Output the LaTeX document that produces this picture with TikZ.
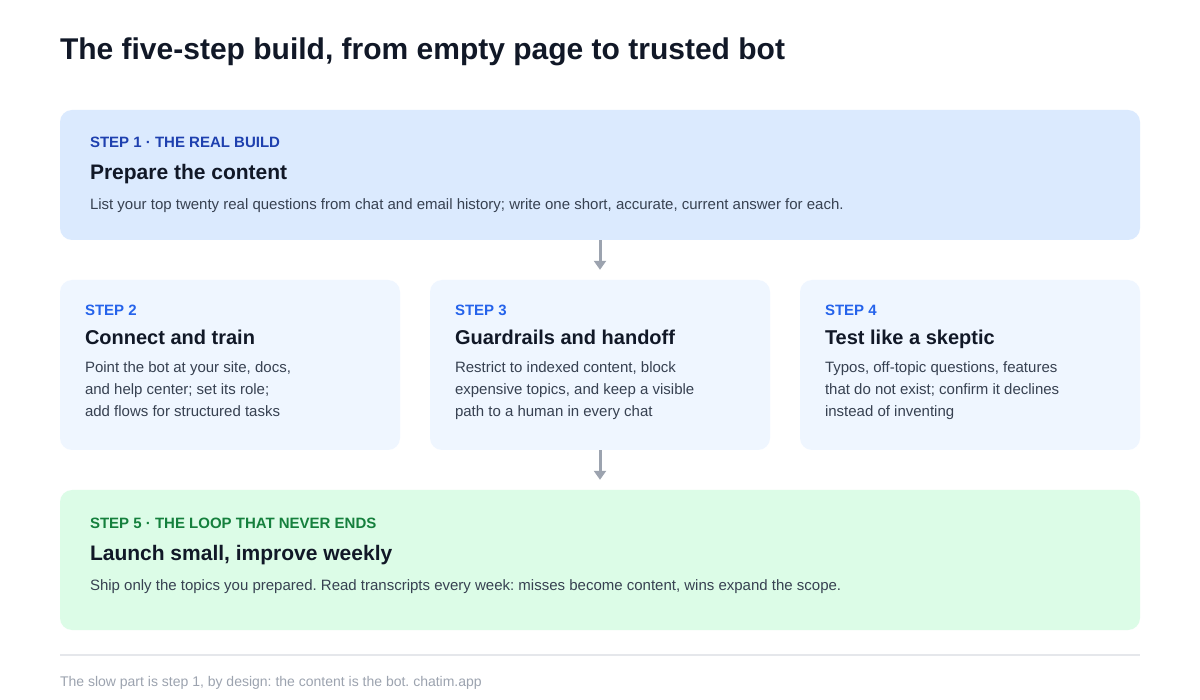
\documentclass[tikz,border=0pt]{standalone}
\usepackage{fontspec}
\setmainfont{Liberation Sans}
\usetikzlibrary{arrows.meta}
\frenchspacing
\definecolor{titlec}{HTML}{111827}
\definecolor{bodyc}{HTML}{374151}
\definecolor{blueA}{HTML}{DBEAFE}
\definecolor{blueB}{HTML}{EFF6FF}
\definecolor{greenA}{HTML}{DCFCE7}
\definecolor{lab1}{HTML}{1E40AF}
\definecolor{lab2}{HTML}{2563EB}
\definecolor{lab5}{HTML}{15803D}
\definecolor{arrc}{HTML}{9CA3AF}
\definecolor{rulec}{HTML}{E5E7EB}
\definecolor{footc}{HTML}{9CA3AF}
\tikzset{
  card/.style={draw=none, rounded corners=12pt, inner sep=0pt},
  txt/.style={anchor=base west, inner sep=0pt, outer sep=0pt},
  ttl/.style={txt, font=\fontsize{30}{34}\selectfont\bfseries, text=titlec},
  lab/.style={txt, font=\fontsize{15}{17}\selectfont\bfseries},
  head/.style={txt, font=\fontsize{21}{25}\selectfont\bfseries, text=titlec},
  headsm/.style={txt, font=\fontsize{20}{24}\selectfont\bfseries, text=titlec},
  body/.style={txt, font=\fontsize{15}{18}\selectfont, text=bodyc},
  foot/.style={txt, font=\fontsize{14}{16}\selectfont, text=footc},
  flow/.style={draw=arrc, line width=3pt, -{Triangle[width=12pt,length=9pt]}, shorten >=10pt}
}
\begin{document}
\begin{tikzpicture}[x=1pt,y=-1pt]
\useasboundingbox[fill=white] (0,0) rectangle (1200,700);
\node[ttl] (title) at (60,60) {The five-step build, from empty page to trusted bot};

\node[card, fill=blueA, minimum width=1080pt, minimum height=130pt] (s1) at (600,175) {};
\node[lab, text=lab1] (l1) at (90,148) {STEP 1 · THE REAL BUILD};
\node[head] (h1) at (90,180) {Prepare the content};
\node[body] (b1) at (90,210) {List your top twenty real questions from chat and email history; write one short, accurate, current answer for each.};

\node[card, fill=blueB, minimum width=340pt, minimum height=170pt] (s2) at (230,365) {};
\node[card, fill=blueB, minimum width=340pt, minimum height=170pt] (s3) at (600,365) {};
\node[card, fill=blueB, minimum width=340pt, minimum height=170pt] (s4) at (970,365) {};

\node[lab, text=lab2] (l2) at (85,316) {STEP 2};
\node[headsm] (h2) at (85,345) {Connect and train};
\node[body] (b2a) at (85,373) {Point the bot at your site, docs,};
\node[body] (b2b) at (85,395) {and help center; set its role;};
\node[body] (b2c) at (85,417) {add flows for structured tasks};

\node[lab, text=lab2] (l3) at (455,316) {STEP 3};
\node[headsm] (h3) at (455,345) {Guardrails and handoff};
\node[body] (b3a) at (455,373) {Restrict to indexed content, block};
\node[body] (b3b) at (455,395) {expensive topics, and keep a visible};
\node[body] (b3c) at (455,417) {path to a human in every chat};

\node[lab, text=lab2] (l4) at (825,316) {STEP 4};
\node[headsm] (h4) at (825,345) {Test like a skeptic};
\node[body] (b4a) at (825,373) {Typos, off-topic questions, features};
\node[body] (b4b) at (825,395) {that do not exist; confirm it declines};
\node[body] (b4c) at (825,417) {instead of inventing};

\node[card, fill=greenA, minimum width=1080pt, minimum height=140pt] (s5) at (600,560) {};
\node[lab, text=lab5] (l5) at (90,528) {STEP 5 · THE LOOP THAT NEVER ENDS};
\node[head] (h5) at (90,560) {Launch small, improve weekly};
\node[body] (b5) at (90,590) {Ship only the topics you prepared. Read transcripts every week: misses become content, wins expand the scope.};

\draw[flow] (s1.south) -- (s3.north);
\draw[flow] (s3.south) -- (s5.north);

\coordinate (r1) at (60,655);
\coordinate (r2) at (1140,655);
\draw[rulec, line width=2pt] (r1) -- (r2);
\node[foot] (ft) at (60,686) {The slow part is step 1, by design: the content is the bot. chatim.app};
\end{tikzpicture}
\end{document}
